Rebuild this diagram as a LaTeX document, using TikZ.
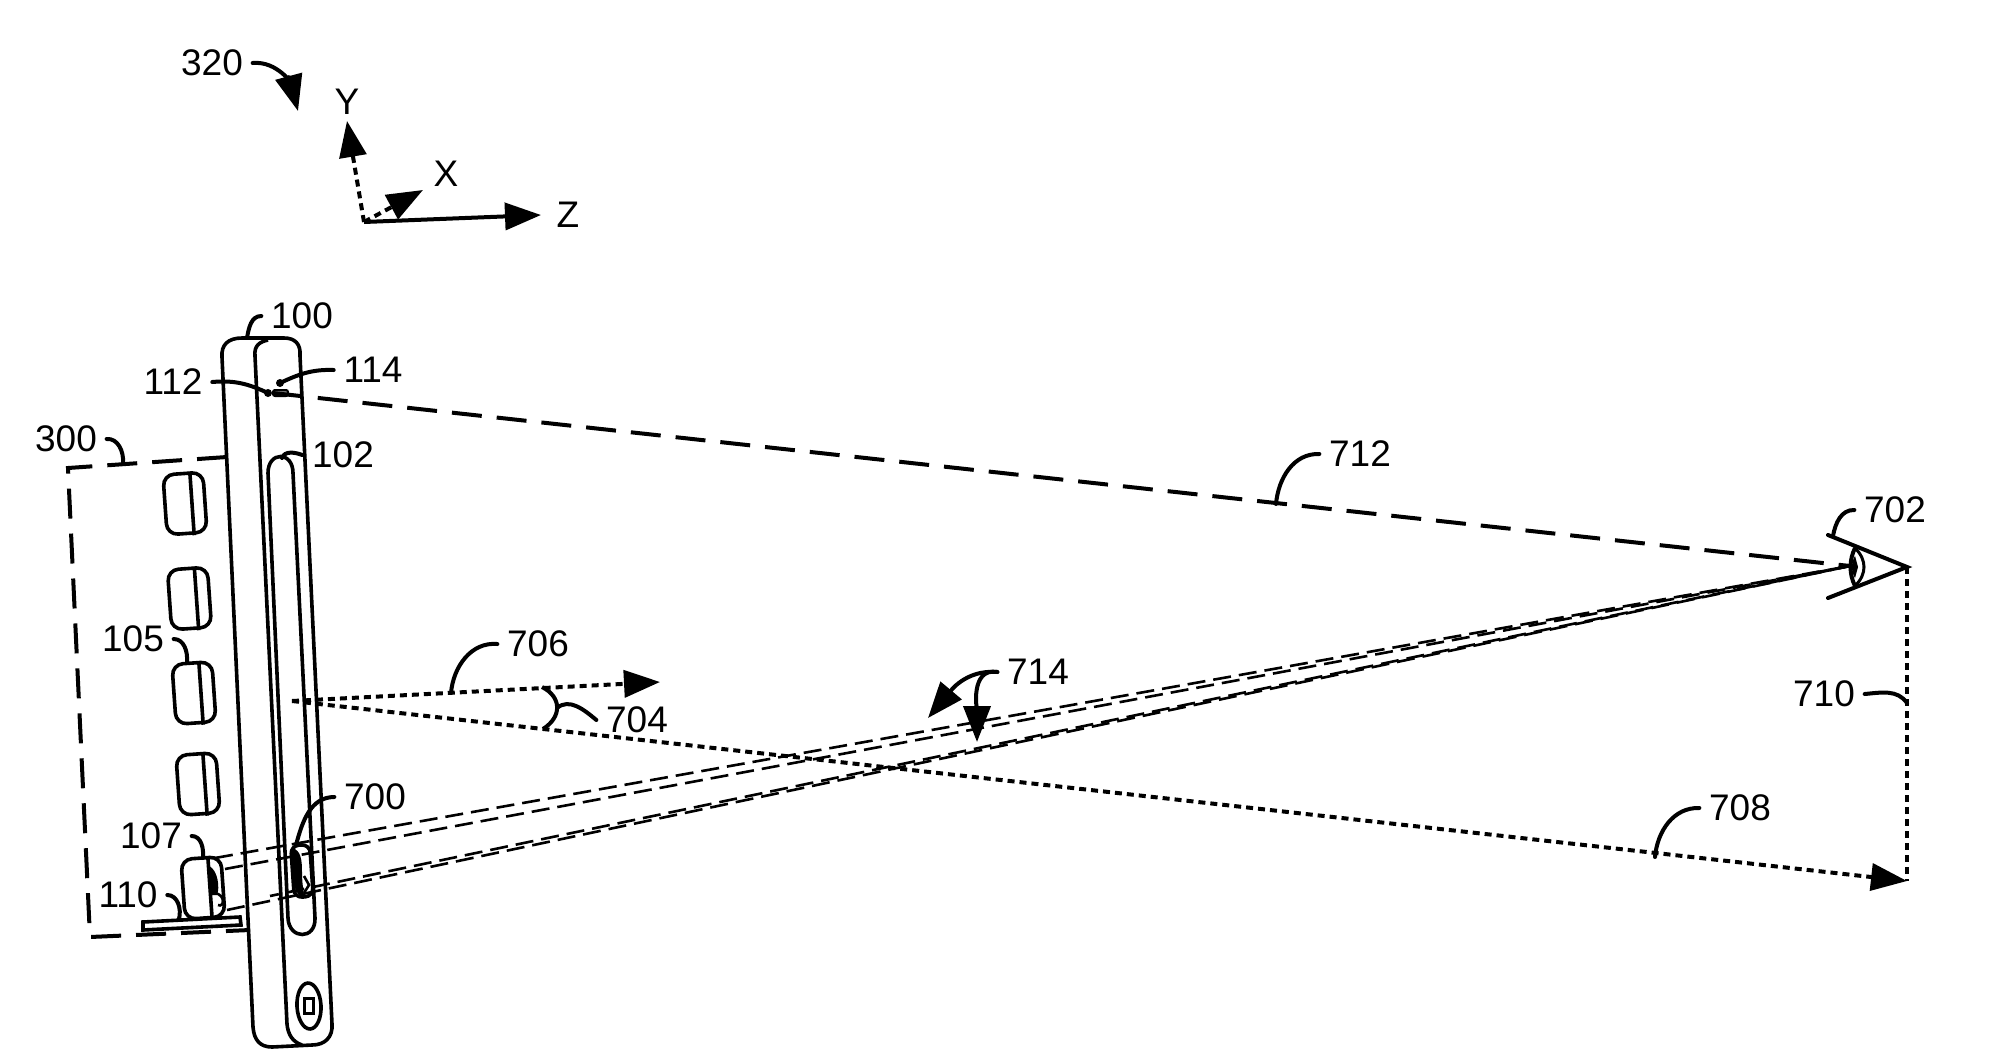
\documentclass[tikz,border=0pt]{standalone}
\usepackage{fontspec}
\setmainfont{Liberation Sans}
\usetikzlibrary{arrows.meta,shapes.geometric}

\begin{document}
\begin{tikzpicture}[x=1pt,y=1pt,line width=3.6pt,>={Triangle[length=36pt,width=27pt]},
  label node/.style={inner ysep=2pt,inner xsep=8pt,font=\fontsize{37}{37}\selectfont},
  module node/.style={draw,rounded corners=11pt,minimum width=40pt,minimum height=60pt,inner sep=0pt,rotate=4},
  leader line/.style={line width=4pt,line cap=round},
  sight line/.style={line width=2.6pt,dash pattern=on 18pt off 8pt},
  dot line/.style={line width=4pt,dash pattern=on 7pt off 5pt},
  long line/.style={line width=4pt,dash pattern=on 30pt off 15pt}]
  \useasboundingbox (0,0) rectangle (1996,-1060);

  % axes
  \coordinate (origin) at (364,-222);
  \node[label node] (n320) at (212,-63) {320};
  \node[label node] (axisY) at (347,-102) {Y};
  \node[label node] (axisX) at (446,-174) {X};
  \node[label node] (axisZ) at (568,-215) {Z};
  \coordinate (t320) at (298,-111);
  \coordinate (tipY) at (347,-121);
  \coordinate (tipX) at (423,-190);
  \coordinate (tipZ) at (541,-215);
  \draw[->,leader line] (n320.east) to[out=5,in=105] (t320);
  \draw[->,dot line] (origin) -- (tipY);
  \draw[->,dot line] (origin) -- (tipX);
  \draw[->,line width=4pt] (origin) -- (tipZ);

  % device
  \draw (222,-357) .. controls (221,-345) and (228,-338) .. (242,-338) -- (284,-338)
    .. controls (295,-338) and (301,-344) .. (300,-356) -- (332,-1024)
    .. controls (333,-1037) and (325,-1045) .. (312,-1045) -- (272,-1047)
    .. controls (260,-1047) and (254,-1040) .. (253,-1027) -- cycle;
  \draw (268,-340) .. controls (259,-342) and (254,-346) .. (255,-356) -- (287,-1024)
    .. controls (288,-1035) and (293,-1042) .. (302,-1045);
  % slot 102
  \draw (268,-473) .. controls (268,-451) and (293,-451) .. (293,-473) -- (315,-918)
    .. controls (316,-940) and (289,-940) .. (288,-918) -- cycle;
  \node[draw,ellipse,minimum width=24pt,minimum height=46pt,inner sep=0pt,rotate=3] (button) at (309,-1006) {};
  \node[draw,minimum width=9pt,minimum height=15pt,inner sep=0pt,line width=3pt] (lens) at (309,-1006) {};
  \draw[line width=2pt,fill=gray,rounded corners=2pt] (273,-390) rectangle (288,-396);

  % modules
  \node[module node] (m1) at (185,-503.5) {};
  \node[module node] (m2) at (189.5,-598.5) {};
  \node[module node] (m3) at (194,-693) {};
  \node[module node] (m4) at (198,-784) {};
  \node[module node] (m5) at (203,-888) {};
  \draw ([xshift=7pt]m1.north) -- ([xshift=7pt]m1.south);
  \draw ([xshift=7pt]m2.north) -- ([xshift=7pt]m2.south);
  \draw ([xshift=7pt]m3.north) -- ([xshift=7pt]m3.south);
  \draw ([xshift=7pt]m4.north) -- ([xshift=7pt]m4.south);
  \draw ([xshift=7pt]m5.north) -- ([xshift=7pt]m5.south);
  \fill (209,-866) .. controls (218,-870) and (220,-888) .. (217,-895) -- (211,-895) -- cycle;
  \draw[line width=2.6pt] (215,-893) .. controls (226,-895) and (224,-908) .. (218,-905);

  % plate 110 and case 300
  \draw (143,-922) -- (240,-917) -- (241,-925) -- (143,-930) -- cycle;
  \draw[long line] (227,-457) -- (68,-468) -- (90,-937) -- (250,-930);

  % camera 700
  \node[draw,rounded corners=8pt,minimum width=19pt,minimum height=52pt,inner sep=0pt,rotate=4] (cam) at (302,-871) {};
  \fill (292,-848) .. controls (301,-850) and (302,-860) .. (302,-872)
    .. controls (302,-885) and (304,-892) .. (304,-897) .. controls (297,-896) and (295,-890) .. (293,-880) -- cycle;
  \draw[line width=2.6pt] (304,-876) -- (309,-885) -- (304,-893);

  % eye
  \coordinate (eye) at (1850,-566);
  \coordinate (apex) at (1907,-567);
  \draw[line width=4pt,line cap=round] (1828,-535) -- (apex) -- (1828,-598);
  \draw[line width=4pt] (1855,-548) .. controls (1849,-560) and (1849,-574) .. (1855,-586);
  \draw[line width=3pt] (1855,-548) .. controls (1867,-560) and (1867,-574) .. (1855,-586);
  \fill (1855,-556) .. controls (1851,-562) and (1851,-572) .. (1855,-578) -- (1858,-567) -- cycle;

  % rays
  \coordinate (a1) at (215,-858);
  \coordinate (a2) at (225,-869);
  \coordinate (a3) at (227,-910);
  \coordinate (a4) at (270,-896);
  \coordinate (s0) at (273,-393);
  \coordinate (r0) at (292,-701);
  \coordinate (tip706) at (660,-682);
  \coordinate (tip708) at (1907,-881);
  \draw[sight line] (a1) -- (eye);
  \draw[sight line] (a2) -- (eye);
  \draw[sight line] (a3) -- (eye);
  \draw[sight line,dash phase=9pt] (a4) -- (eye);
  \draw[long line] (s0) -- (eye);
  \draw[->,dot line] (r0) -- (tip706);
  \draw[->,dot line] (r0) -- (tip708);
  \draw[dot line] (apex) -- (tip708);
  % angle 704
  \draw[line width=4pt] (542,-687) .. controls (562,-697) and (562,-717) .. (543,-729);

  % labels and their leaders
  \node[label node] (n100) at (302,-316) {100};
  \node[label node] (n114) at (373,-370) {114};
  \node[label node] (n112) at (173,-382) {112};
  \node[label node] (n300) at (66,-439) {300};
  \node[label node] (n102) at (343,-455) {102};
  \node[label node] (n105) at (133,-639) {105};
  \node[label node] (n107) at (151,-836) {107};
  \node[label node] (n110) at (128,-895) {110};
  \node[label node] (n700) at (375,-797) {700};
  \node[label node] (n702) at (1895,-510) {702};
  \node[label node] (n706) at (538,-644) {706};
  \node[label node] (n704) at (637,-720) {704};
  \node[label node] (n712) at (1360,-454) {712};
  \node[label node] (n714) at (1038,-672) {714};
  \node[label node] (n710) at (1824,-694) {710};
  \node[label node] (n708) at (1740,-808) {708};
  \coordinate (t100) at (247,-338);
  \coordinate (t114) at (280,-383);
  \coordinate (t112) at (268,-393);
  \coordinate (t300) at (123,-463);
  \coordinate (t102) at (282,-458);
  \coordinate (t105) at (187,-662);
  \coordinate (t107) at (203,-858);
  \coordinate (t110) at (179,-919);
  \coordinate (t700) at (296,-845);
  \coordinate (t702) at (1833,-536);
  \coordinate (t706) at (451,-693);
  \coordinate (t704) at (557,-708);
  \coordinate (t712) at (1276,-504);
  \coordinate (t710) at (1907,-703);
  \coordinate (t708) at (1655,-857);
  \coordinate (t714a) at (928,-718);
  \coordinate (t714b) at (977,-742);
  \draw[leader line] (n100.west) to[out=180,in=80] (t100);
  \draw[leader line] (n114.west) to[out=178,in=25] (t114);
  \draw[leader line] (n112.east) to[out=5,in=155] (t112);
  \draw[leader line] (n300.east) to[out=5,in=85] (t300);
  \draw[leader line] (n102.west) to[out=160,in=70] (t102);
  \draw[leader line] (n105.east) to[out=0,in=85] (t105);
  \draw[leader line] (n107.east) to[out=0,in=85] (t107);
  \draw[leader line] (n110.east) to[out=0,in=75] (t110);
  \draw[leader line] (n700.west) to[out=180,in=75] (t700);
  \draw[leader line] (n702.west) to[out=178,in=80] (t702);
  \draw[leader line] (n706.west) to[out=175,in=85] (t706);
  \draw[leader line] (n704.west) to[out=140,in=40] (t704);
  \draw[leader line] (n712.west) to[out=178,in=85] (t712);
  \draw[leader line] (n710.east) to[out=5,in=125] (t710);
  \draw[leader line] (n708.west) to[out=178,in=85] (t708);
  \draw[->,leader line] (n714.west) to[out=175,in=50] (t714a);
  \draw[->,leader line] (n714.west) to[out=170,in=90] (t714b);
  \fill (t114) circle (4pt);
  \fill (t112) circle (4pt);
\end{tikzpicture}
\end{document}
